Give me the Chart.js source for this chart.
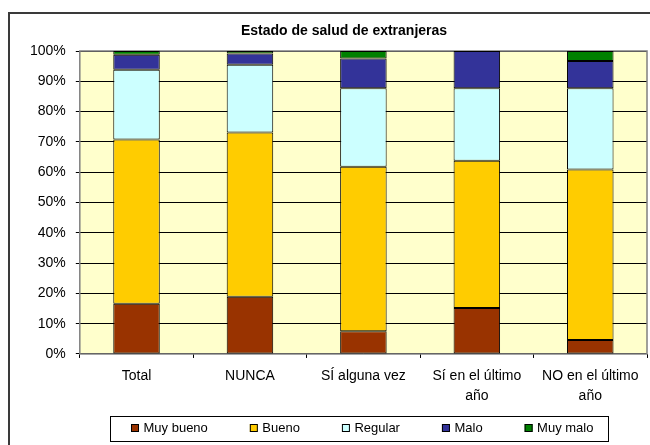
<!DOCTYPE html>
<html>
<head>
<meta charset="utf-8">
<script src="https://cdn.jsdelivr.net/npm/chart.js@4/dist/chart.umd.min.js"></script>
<style>
  body { margin: 0; background: #fff; }
</style>
</head>
<body>
<canvas id="salud" width="650" height="445"></canvas>
<script>
var chartTitle = 'Estado de salud de extranjeras';
var categories = ['Total', 'NUNCA', 'SÍ alguna vez', ['Sí en el último', 'año'], ['NO en el último', 'año']];
var seriesNames = ['Muy bueno', 'Bueno', 'Regular', 'Malo', 'Muy malo'];
var muyBueno = [16.6, 18.9, 7.5, 15.2, 4.6];
var bueno = [54.2, 54.2, 54.3, 48.6, 56.3];
var regular = [23.0, 22.4, 25.9, 23.9, 26.8];
var malo = [5.0, 3.7, 9.8, 12.3, 9.0];
var muyMalo = [1.2, 0.8, 2.5, 0.0, 3.3];
var yTicks = [0, 10, 20, 30, 40, 50, 60, 70, 80, 90, 100];

var colors = ['#993300', '#FFCC00', '#CCFFFF', '#333399', '#008000'];
var font = "'Liberation Sans', Arial, sans-serif";

// plot background, plot border, outer frame, title and the boxed legend
var frame = {
  id: 'frame',
  beforeDraw: function(chart) {
    var ctx = chart.ctx, a = chart.chartArea;
    ctx.save();
    ctx.fillStyle = '#FFFFCC';
    ctx.fillRect(a.left, a.top, a.right - a.left, a.bottom - a.top);
    ctx.restore();
  },
  beforeDatasetsDraw: function(chart) {
    var ctx = chart.ctx, a = chart.chartArea;
    ctx.save();
    ctx.strokeStyle = '#808080';
    ctx.lineWidth = 1.5;
    ctx.strokeRect(a.left, a.top, a.right - a.left, a.bottom - a.top);
    ctx.restore();
  },
  afterDraw: function(chart) {
    var ctx = chart.ctx;
    ctx.save();
    ctx.strokeStyle = '#3a3a3a';
    ctx.lineWidth = 2;
    ctx.strokeRect(9, 13, 700, 500);

    // title, centred in the outer frame
    ctx.fillStyle = '#000';
    ctx.font = 'bold 14px ' + font;
    ctx.textAlign = 'center';
    ctx.textBaseline = 'middle';
    ctx.fillText(chartTitle, 344, 31);

    // legend
    ctx.textAlign = 'left';
    ctx.strokeStyle = '#000';
    ctx.lineWidth = 1;
    ctx.strokeRect(110.5, 416.5, 498, 25);
    ctx.font = '13px ' + font;
    var x = 131, y = 428;
    chart.data.datasets.forEach(function(ds) {
      ctx.fillStyle = ds.backgroundColor;
      ctx.fillRect(x, y - 4, 8, 8);
      ctx.strokeRect(x + 0.5, y - 3.5, 7, 7);
      ctx.fillStyle = '#000';
      ctx.fillText(ds.label, x + 12.5, y);
      x += 12.5 + ctx.measureText(ds.label).width + 42;
    });
    ctx.restore();
  }
};

window.onload = function() {
  var all = [muyBueno, bueno, regular, malo, muyMalo];
  var datasets = all.map(function(values, i) {
    return {
      label: seriesNames[i],
      data: values,
      backgroundColor: colors[i],
      borderColor: '#000',
      borderWidth: 1,
      borderSkipped: false,
      categoryPercentage: 1,
      barPercentage: 0.41
    };
  });

  var ctx = document.getElementById('salud').getContext('2d');
  var chart = new Chart(ctx, {
    type: 'bar',
    data: { labels: categories, datasets: datasets },
    options: {
      responsive: false,
      animation: false,
      devicePixelRatio: 1,
      layout: { padding: { left: 20, right: 3, top: 51, bottom: 31 } },
      plugins: {
        legend: { display: false },
        tooltip: { enabled: false },
        title: { display: false }
      },
      scales: {
        x: {
          stacked: true,
          offset: true,
          border: { display: false },
          grid: { offset: true, drawOnChartArea: false, tickLength: 4, tickColor: '#000' },
          ticks: {
            color: '#000',
            padding: 8,
            maxRotation: 0,
            autoSkip: false,
            font: { family: font, size: 14, lineHeight: 1.43 }
          }
        },
        y: {
          stacked: true,
          min: 0,
          max: 100,
          border: { display: false },
          afterBuildTicks: function(scale) {
            scale.ticks = yTicks.map(function(v) { return { value: v }; });
          },
          grid: { color: '#000', lineWidth: 1, tickLength: 4, tickColor: '#000' },
          ticks: {
            color: '#000',
            padding: 10,
            font: { family: font, size: 14 },
            callback: function(v) { return v + '%'; }
          }
        }
      }
    },
    plugins: [frame]
  });
};
</script>
</body>
</html>
